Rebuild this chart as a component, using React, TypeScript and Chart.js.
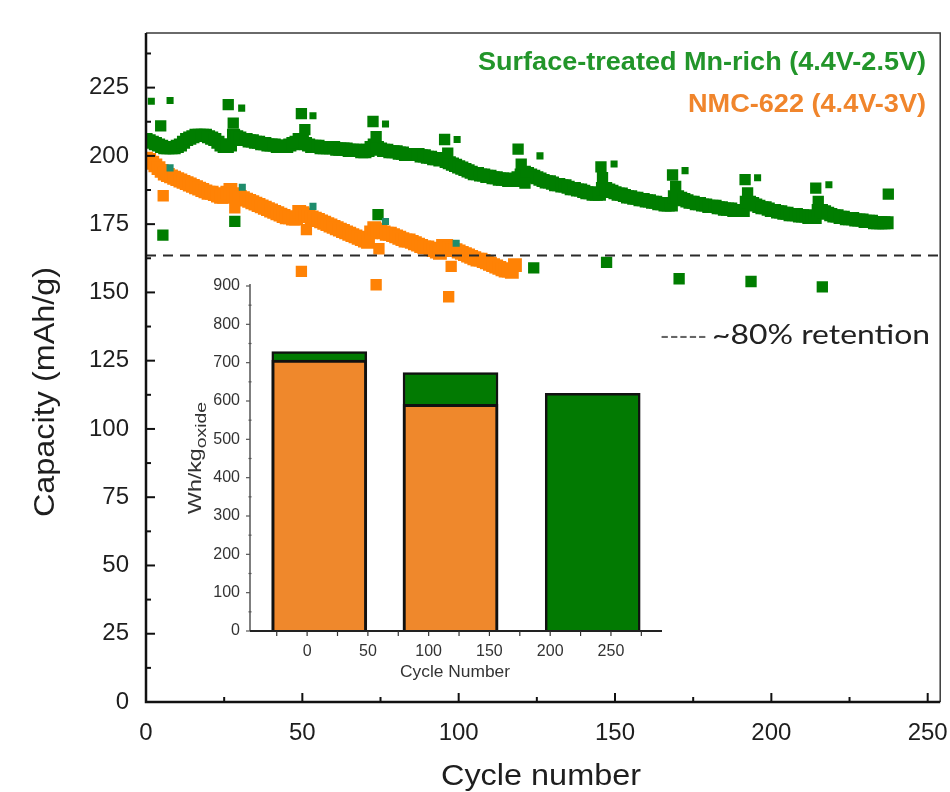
import React, { useEffect, useRef } from 'react';
import { Chart, registerables } from 'chart.js';

Chart.register(...registerables);

// ---------- Main chart data (capacity in mAh/g, index = cycle number) ----------
const mnRichCapacity: number[] = [
  206, 205.5, 205, 204.5, 204, 203.5, 203, 203, 203, 203,
  203.5, 204, 205, 206, 206.5, 207, 207.5, 207.5, 207.5, 207.5,
  207, 206.5, 206, 205, 204, 203.5, 203.5, 204, 207.5, 207,
  206.5, 206, 206, 205.5, 205.5, 205, 205, 204.5, 204.5, 204,
  204, 204, 203.5, 203.5, 203.5, 203.5, 204, 204.5, 205, 206,
  205.5, 204.5, 204, 203.5, 203.5, 203.5, 203, 203, 203, 203,
  203, 202.5, 202.5, 202.5, 202.5, 202, 202, 202, 202, 201.5,
  201.5, 202, 203, 204, 203, 202.5, 202, 202, 201.5, 201.5,
  201.5, 201, 201, 200.5, 200.5, 200.5, 200.5, 200.5, 200, 200,
  199.5, 199.5, 199, 199, 198.5, 199, 198, 197.5, 197, 196.5,
  196, 195.5, 195, 194.5, 194, 193.5, 193.5, 193, 193, 192.5,
  192.5, 192, 192, 191.5, 191.5, 191.5, 191, 191, 191, 192,
  193, 194, 193.5, 193, 192.5, 192, 191.5, 191, 190.5, 190.5,
  190, 189.5, 189.5, 189, 189, 188.5, 188, 188, 187.5, 187.5,
  187, 186.5, 186.5, 186, 186, 186, 188, 188, 187.5, 187,
  186.5, 186, 186, 185.5, 185, 185, 184.5, 184.5, 184, 184,
  183.5, 183.5, 183, 183, 182.5, 182.5, 182, 182, 182, 185,
  185, 184.5, 184, 183.5, 183, 183, 182.5, 182.5, 182, 182,
  181.5, 181.5, 181.5, 181, 181, 180.5, 180.5, 180.5, 180, 180,
  180, 180, 183, 183, 182.5, 182, 181.5, 181, 181, 180.5,
  180, 180, 179.5, 179.5, 179, 179, 178.5, 178.5, 178.5, 178,
  178, 178, 177.5, 177.5, 177.5, 180, 180, 179.5, 179, 178.5,
  178, 178, 177.5, 177.5, 177, 177, 177, 176.5, 176.5, 176.5,
  176, 176, 176, 175.5, 175.5, 175.5, 175.5, 175.5,
];

const nmcCapacity: number[] = [
  199, 198.5, 197.5, 196.5, 195.5, 194.5, 193.5, 193, 192.5, 192,
  191.5, 191, 190.5, 190, 189.5, 189, 188.5, 188, 187.5, 187,
  186.5, 186.5, 186, 185.5, 185, 185, 186.5, 187.5, 186, 185.5,
  185, 184.5, 184, 183.5, 183, 182.5, 182, 181.5, 181, 180.5,
  180, 179.5, 179, 178.5, 178, 177.5, 177.5, 177, 177, 179.5,
  179, 178.5, 178, 177.5, 177, 176.5, 176, 175.5, 175, 174.5,
  174, 173.5, 173, 172.5, 172, 171.5, 171, 170.5, 170, 169.5,
  169, 168.5, 172, 173.5, 173, 172.5, 172, 171.5, 171.5, 171,
  170.5, 170, 169.5, 169, 169, 168.5, 168, 167.5, 167, 166.5,
  166.5, 166, 165.5, 165, 164.5, 167, 167, 166, 165.5, 165.5,
  165, 164.5, 164, 163.5, 163, 162.5, 162, 162, 161.5, 161,
  160.5, 160, 159.5, 159, 158.5, 158, 158, 157.5, 160,
];

// Check-up cycles (large markers) of the Mn-rich cell
const mnRichCheckCycles = [4.7, 5.4, 26.3, 27.9, 28.4, 49.7, 50.8, 50.5, 72.6, 73.6, 74.2, 95.5, 96.5, 119, 120, 121.2, 124, 145.5, 146, 147.3, 168.4, 169.4, 170.5, 191.6, 192.4, 193.5, 214.2, 215, 216.3, 237.4];
const mnRichCheckValues = [211, 171, 218.8, 212, 176, 215.5, 209.6, 177.5, 212.6, 207, 178.5, 206, 201, 202.5, 197, 190, 159, 196, 192, 161, 193, 188.8, 155, 191.3, 186.4, 154, 188.2, 183.3, 152, 186];

// Small markers of the Mn-rich cell
const mnRichSmallCycles = [1.7, 7.7, 30.6, 53.4, 76.6, 99.5, 126, 149.7, 172.4, 195.6, 218.4];
const mnRichSmallValues = [220, 220.3, 217.5, 214.7, 211.7, 206, 200, 197, 194.6, 192, 189.4];

// Small teal markers sitting on the NMC curve
const tealCycles = [7.7, 30.8, 53.4, 76.6, 99.2];
const tealValues = [195.6, 188.5, 181.5, 176, 168];

// NMC-622 check-up cycles
const nmcCheckCycles = [5.5, 28.4, 49.7, 51.3, 73.6, 74.5, 96.8, 97.6];
const nmcCheckValues = [185.4, 181, 157.7, 173, 152.8, 166, 148.4, 159.5];

const retentionLevel = 163.5;
const yTickValues = [0, 25, 50, 75, 100, 125, 150, 175, 200, 225];
const xTickValues = [0, 50, 100, 150, 200, 250];

// ---------- Inset data (Wh/kg oxide) ----------
const insetBarCycles = [10, 118, 235];
const insetNmcEnergy = [707, 591];
const insetMnRichEnergy = [729, 674, 620];
const insetYTickValues = [0, 100, 200, 300, 400, 500, 600, 700, 800, 900];
const insetXTickValues = [0, 50, 100, 150, 200, 250];

const legendMnRich = 'Surface-treated Mn-rich (4.4V-2.5V)';
const legendNmc = 'NMC-622 (4.4V-3V)';
const retentionLabel = '~80% retention';

const SANS = "'Liberation Sans', Arial, Helvetica, sans-serif";
const NARROW = "'Liberation Sans Narrow', 'Liberation Sans', Arial, sans-serif";
const CAL = "Lato, 'Open Sans', 'Noto Sans', sans-serif";

const GREEN = '#007d00';
const ORANGE = '#ff8205';

function fitText(ctx: CanvasRenderingContext2D, text: string, x: number, y: number, w: number) {
  const m = ctx.measureText(text).width;
  ctx.save();
  ctx.translate(x, y);
  ctx.scale(w / m, 1);
  ctx.textAlign = 'left';
  ctx.fillText(text, 0, 0);
  ctx.restore();
}

const mainDecor = {
  id: 'mainDecor',
  afterDraw(chart: any) {
    const { ctx, chartArea: a, scales } = chart;
    const xs = scales.x;
    const ys = scales.y;
    ctx.save();
    // retention dashed line
    const yr = ys.getPixelForValue(retentionLevel);
    ctx.strokeStyle = '#2a2a2a';
    ctx.lineWidth = 2;
    ctx.setLineDash([10, 7]);
    ctx.beginPath();
    ctx.moveTo(a.left, yr);
    ctx.lineTo(a.right, yr);
    ctx.stroke();
    ctx.setLineDash([]);

    // frame
    ctx.strokeStyle = '#3a3a3a';
    ctx.lineWidth = 1.5;
    ctx.beginPath();
    ctx.moveTo(a.left, a.top);
    ctx.lineTo(a.right, a.top);
    ctx.lineTo(a.right, a.bottom);
    ctx.stroke();
    ctx.strokeStyle = '#111';
    ctx.lineWidth = 2.5;
    ctx.beginPath();
    ctx.moveTo(a.left, a.top);
    ctx.lineTo(a.left, a.bottom);
    ctx.lineTo(a.right, a.bottom);
    ctx.stroke();

    // inward ticks
    ctx.lineWidth = 2;
    const yStep = yTickValues[1] - yTickValues[0];
    for (const v of yTickValues) {
      const p = ys.getPixelForValue(v);
      ctx.beginPath(); ctx.moveTo(a.left, p); ctx.lineTo(a.left + 9, p); ctx.stroke();
      const m = v + yStep / 2;
      if (m < ys.max) {
        const pm = ys.getPixelForValue(m);
        ctx.beginPath(); ctx.moveTo(a.left, pm); ctx.lineTo(a.left + 5, pm); ctx.stroke();
      }
    }
    const xStep = xTickValues[1] - xTickValues[0];
    for (const v of xTickValues) {
      const p = xs.getPixelForValue(v);
      ctx.beginPath(); ctx.moveTo(p, a.bottom); ctx.lineTo(p, a.bottom - 9); ctx.stroke();
      const m = v + xStep / 2;
      if (m < xs.max) {
        const pm = xs.getPixelForValue(m);
        ctx.beginPath(); ctx.moveTo(pm, a.bottom); ctx.lineTo(pm, a.bottom - 5); ctx.stroke();
      }
    }

    // legend texts
    ctx.textBaseline = 'middle';
    ctx.font = `bold 26px ${NARROW}`;
    ctx.fillStyle = '#22952a';
    fitText(ctx, legendMnRich, 478, 63, 448);
    ctx.fillStyle = '#f0852c';
    fitText(ctx, legendNmc, 688, 105, 238);

    // retention label
    ctx.font = `26px ${CAL}`;
    ctx.fillStyle = '#666';
    fitText(ctx, '-----', 660, 337, 47);
    ctx.fillStyle = '#222';
    fitText(ctx, retentionLabel, 712, 336, 218);

    // axis titles
    ctx.fillStyle = '#1e1e1e';
    ctx.font = `30px ${SANS}`;
    fitText(ctx, 'Cycle number', 441, 777, 200);
    ctx.save();
    ctx.translate(46, 392);
    ctx.rotate(-Math.PI / 2);
    fitText(ctx, 'Capacity (mAh/g)', -125, 0, 250);
    ctx.restore();
    ctx.restore();
  },
};

const insetDecor = {
  id: 'insetDecor',
  afterDraw(chart: any) {
    const { ctx, chartArea: a, scales } = chart;
    const xs = scales.x;
    const ys = scales.y;
    ctx.save();
    ctx.strokeStyle = '#555';
    ctx.lineWidth = 1.5;
    ctx.beginPath();
    ctx.moveTo(a.left, a.top - 2);
    ctx.lineTo(a.left, a.bottom);
    ctx.stroke();
    ctx.strokeStyle = '#222';
    ctx.lineWidth = 2;
    ctx.beginPath();
    ctx.moveTo(a.left, a.bottom);
    ctx.lineTo(a.right, a.bottom);
    ctx.stroke();

    ctx.strokeStyle = '#555';
    ctx.lineWidth = 1.2;
    const yStep = insetYTickValues[1] - insetYTickValues[0];
    for (const v of insetYTickValues) {
      const p = ys.getPixelForValue(v);
      ctx.beginPath(); ctx.moveTo(a.left, p); ctx.lineTo(a.left - 4, p); ctx.stroke();
      const m = v + yStep / 2;
      if (m < ys.max) {
        const pm = ys.getPixelForValue(m);
        ctx.beginPath(); ctx.moveTo(a.left - 1.5, pm); ctx.lineTo(a.left + 1.5, pm); ctx.stroke();
      }
    }
    ctx.strokeStyle = '#333';
    const xStep = (insetXTickValues[1] - insetXTickValues[0]) / 2;
    for (let v = insetXTickValues[0] - xStep; v <= xs.max; v += xStep) {
      if (v < xs.min) continue;
      const p = xs.getPixelForValue(v);
      ctx.beginPath(); ctx.moveTo(p, a.bottom); ctx.lineTo(p, a.bottom + 5); ctx.stroke();
    }

    ctx.fillStyle = '#333';
    ctx.textBaseline = 'middle';
    ctx.font = `16px ${SANS}`;
    fitText(ctx, 'Cycle Number', 400 - 180, 673 - 270, 110);

    // rotated Wh/kg_oxide
    ctx.save();
    ctx.translate(196 - 180, 458 - 270);
    ctx.rotate(-Math.PI / 2);
    ctx.font = `18px ${SANS}`;
    const w1 = ctx.measureText('Wh/kg').width;
    ctx.font = `15px ${SANS}`;
    const w2 = ctx.measureText('oxide').width;
    const total = w1 + w2;
    const s = 112 / total;
    ctx.scale(s, 1);
    const start = -total / 2;
    ctx.textAlign = 'left';
    ctx.font = `18px ${SANS}`;
    ctx.fillText('Wh/kg', start, 0);
    ctx.font = `15px ${SANS}`;
    ctx.fillText('oxide', start + w1, 6);
    ctx.restore();
    ctx.restore();
  },
};

const zeroXPad = (s: any) => { s.paddingLeft = 0; s.paddingRight = 0; };
const zeroYPad = (s: any) => { s.paddingTop = 0; s.paddingBottom = 0; };

export default function App() {
  const mainRef = useRef<HTMLCanvasElement | null>(null);
  const insetRef = useRef<HTMLCanvasElement | null>(null);

  useEffect(() => {
    if (!mainRef.current || !insetRef.current) return;
    const tickFont = { family: SANS, size: 24 };

    const mainChart = new Chart(mainRef.current, {
      type: 'scatter',
      data: {
        datasets: [
          {
            label: 'teal',
            data: tealCycles.map((c, i) => ({ x: c, y: tealValues[i] })),
            backgroundColor: '#1e8c6c',
            pointStyle: 'rect',
            pointRadius: 5,
            borderWidth: 0,
            order: 0,
          },
          {
            label: 'nmc-check',
            data: nmcCheckCycles.map((c, i) => ({ x: c, y: nmcCheckValues[i] })),
            backgroundColor: ORANGE,
            pointStyle: 'rect',
            pointRadius: 8,
            borderWidth: 0,
            order: 1,
          },
          {
            label: legendNmc,
            data: nmcCapacity.map((v, i) => ({ x: i, y: v })),
            backgroundColor: ORANGE,
            pointStyle: 'rect',
            pointRadius: 9.8,
            borderWidth: 0,
            order: 2,
          },
          {
            label: 'mn-small',
            data: mnRichSmallCycles.map((c, i) => ({ x: c, y: mnRichSmallValues[i] })),
            backgroundColor: GREEN,
            pointStyle: 'rect',
            pointRadius: 5,
            borderWidth: 0,
            order: 3,
          },
          {
            label: 'mn-check',
            data: mnRichCheckCycles.map((c, i) => ({ x: c, y: mnRichCheckValues[i] })),
            backgroundColor: GREEN,
            pointStyle: 'rect',
            pointRadius: 8,
            borderWidth: 0,
            order: 4,
          },
          {
            label: legendMnRich,
            data: mnRichCapacity.map((v, i) => ({ x: i, y: v })),
            backgroundColor: GREEN,
            pointStyle: 'rect',
            pointRadius: 9.3,
            borderWidth: 0,
            order: 5,
          },
        ],
      },
      options: {
        responsive: false,
        animation: false,
        events: [],
        layout: { padding: { top: 33, right: 9, left: 0, bottom: 0 } },
        plugins: { legend: { display: false }, tooltip: { enabled: false } },
        scales: {
          x: {
            type: 'linear',
            min: 0,
            max: 254,
            offset: false,
            grid: { display: false },
            border: { display: false },
            ticks: { font: tickFont, color: '#1e1e1e', padding: 9, maxRotation: 0, autoSkip: false },
            afterBuildTicks: (s: any) => { s.ticks = xTickValues.map((v) => ({ value: v })); },
            afterFit: (s: any) => { s.height = 90; zeroXPad(s); },
          },
          y: {
            type: 'linear',
            min: 0,
            max: 245,
            grid: { display: false },
            border: { display: false },
            ticks: { font: tickFont, color: '#1e1e1e', padding: 9, autoSkip: false },
            afterBuildTicks: (s: any) => { s.ticks = yTickValues.map((v) => ({ value: v })); },
            afterFit: (s: any) => { s.width = 146; zeroYPad(s); },
          },
        },
      },
      plugins: [mainDecor],
    } as any);

    const insetChart = new Chart(insetRef.current, {
      type: 'bar',
      data: {
        datasets: [
          {
            label: 'NMC-622',
            data: insetNmcEnergy.map((v, i) => ({ x: insetBarCycles[i], y: v })),
            backgroundColor: '#ef882c',
            borderColor: '#111',
            borderWidth: 3,
            borderSkipped: 'bottom',
            barThickness: 95,
            grouped: false,
            order: 0,
          },
          {
            label: 'Mn-rich',
            data: insetMnRichEnergy.map((v, i) => ({ x: insetBarCycles[i], y: v })),
            backgroundColor: '#027a02',
            borderColor: '#111',
            borderWidth: 2.5,
            borderSkipped: 'bottom',
            barThickness: 95,
            grouped: false,
            order: 1,
          },
        ],
      },
      options: {
        responsive: false,
        animation: false,
        events: [],
        layout: { padding: { top: 16, right: 8, left: 0, bottom: 0 } },
        plugins: { legend: { display: false }, tooltip: { enabled: false } },
        scales: {
          x: {
            type: 'linear',
            min: -47,
            max: 292,
            offset: false,
            grid: { display: false, offset: false },
            border: { display: false },
            ticks: { font: { family: SANS, size: 16 }, color: '#333', padding: 3, maxRotation: 0, autoSkip: false },
            afterBuildTicks: (s: any) => { s.ticks = insetXTickValues.map((v) => ({ value: v })); },
            afterFit: (s: any) => { s.height = 59; zeroXPad(s); },
          },
          y: {
            type: 'linear',
            min: 0,
            max: 900,
            grid: { display: false },
            border: { display: false },
            ticks: { font: { family: SANS, size: 16 }, color: '#333', padding: 2, autoSkip: false },
            afterBuildTicks: (s: any) => { s.ticks = insetYTickValues.map((v) => ({ value: v })); },
            afterFit: (s: any) => { s.width = 70; zeroYPad(s); },
          },
        },
      },
      plugins: [insetDecor],
    } as any);

    return () => {
      mainChart.destroy();
      insetChart.destroy();
    };
  }, []);

  return (
    <div style={{ position: 'absolute', left: 0, top: 0, width: 950, height: 792, background: '#fff', overflow: 'hidden' }}>
      <canvas ref={mainRef} width={950} height={792} style={{ position: 'absolute', left: 0, top: 0, width: 950, height: 792 }} />
      <canvas ref={insetRef} width={490} height={420} style={{ position: 'absolute', left: 180, top: 270, width: 490, height: 420 }} />
    </div>
  );
}
